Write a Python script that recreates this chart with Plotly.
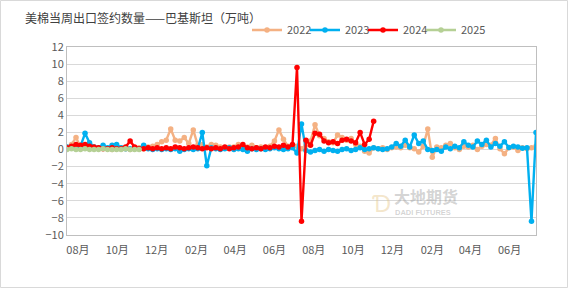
import pandas as pd
import plotly.graph_objects as go

# ---- data (weekly, 万吨) ----
start_date = "2023-07-15"
series_names = ["2022", "2023", "2024", "2025"]

v2022 = [0.3, 0.6, 1.4,
         0.3, 0.2, 0.1, 0.2, 0.1, 0.2, 0.1, 0.0, 0.1, 0.2, 0.1, 0.0, 0.1, 0.2,
         0.1, 0.3, 0.4,
         0.6, 0.9, 1.1, 2.4, 1.1, 1.0, 1.4, 0.7, 2.3,
         0.5, 0.6, 0.3, 0.6, 0.5, 0.3, 0.2, 0.3, 0.3, 0.6, 0.2, 0.3, 0.5, 0.2, 0.3, 0.2, 0.4, 1.0, 2.3, 1.2, 0.4, 0.3, 0.4, 0.1,
         0.5, 1.0, 2.9, 1.6, 1.3, 0.9, 0.8, 1.7, 1.4, 1.1, 1.3, 0.6, 0.4, -0.2, -0.4, 0.2,
         0.1, 0.2, 0.0, 0.2, 0.3, 0.2, 0.5, 0.2, 0.1, -0.3, 0.4, 2.4, -0.9, 0.3, 0.2, 0.5, 0.7, 0.2, 0.0, 0.4,
         0.3, 0.5, 0.0, 0.4, 0.6, 0.5, 1.3, 0.1, -0.5, 0.2, 0.3, -0.1, 0.2, 0.1, 0.2, 0.4]

v2023 = [0.3, 0.2, 0.1, 0.4, 1.9, 0.8, 0.3, 0.2, 0.5, 0.2, 0.5, 0.6, 0.2, 0.1, 0.1, 0.1, 0.1, 0.5,
         0.1, 0.0, 0.1, 0.0, 0.1, 0.0, 0.1, -0.2, 0.0, 0.1, 0.0, 0.1,
         2.0, -1.9,
         0.2, 0.1, 0.0, 0.1, 0.2, 0.0, 0.1, 0.0, -0.2, 0.1, 0.0, 0.1, 0.0, 0.1, 0.2, 0.1, 0.0, 0.1, 0.2,
         -0.4, 3.0,
         -0.1, -0.3, -0.1, 0.0, -0.2, 0.0, -0.1, -0.2, 0.0, 0.1, -0.1, 0.0, 0.2, 0.0, 0.1, 0.2, 0.1, 0.0, 0.1, 0.3,
         0.7, 0.4, 1.1, 0.3, 1.7, 0.7, 1.0, 0.0, -0.1, 0.0, -0.2, 0.3, 0.1, 0.4, 0.2, 0.9, 0.5, 0.3, 1.0, 0.6,
         1.1, 0.3, 0.7, 0.4, 0.9, 0.25, 0.4, 0.3, 0.15, 0.2, -8.4, 2.0]

v2024 = [0.2, 0.4, 0.6, 0.5, 0.6, 0.4, 0.3, 0.2, 0.1, 0.1, 0.2, 0.1, 0.1, 0.3, 1.0, 0.3, 0.1,
         0.1, 0.2, 0.1, 0.2, 0.1, 0.2, 0.1, 0.3, 0.2, 0.1, 0.2, 0.3, 0.2, 0.1, 0.2, 0.1, 0.2, 0.1, 0.3, 0.1,
         0.2, 0.3, 0.6, 0.2, 0.1, 0.2, 0.1, 0.3, 0.2, 0.4, 0.3, 0.5, 0.3, 0.6,
         9.6, -8.4,
         1.1, 0.5, 1.9, 1.8, 1.0, 0.8, 0.9, 0.7, 1.1, 1.2, 1.0, 0.8, 2.0, 0.6, 1.2, 3.3]

v2025 = [0.0, 0.1, 0.0, 0.0, 0.1, 0.0, 0.0, 0.0, 0.1, 0.0, 0.0, 0.0, 0.0, 0.1, 0.0, 0.0, 0.0]

y_ticks = [-10, -8, -6, -4, -2, 0, 2, 4, 6, 8, 10, 12]
title_text = "美棉当周出口签约数量——巴基斯坦（万吨）"

colors = ["#F4B183", "#00B0F0", "#FF0000", "#B5D095"]
all_values = [v2022, v2023, v2024, v2025]

dates = pd.date_range(start_date, periods=105, freq="7D")

W, H = 569, 289
L, R, T, B = 67, 33, 47, 54
pw, ph = W - L - R, H - T - B

legend_ids = ["legend", "legend2", "legend3", "legend4"]
legend_left_px = [247, 305, 363, 421]

fig = go.Figure()
for name, vals, col, lid in zip(series_names, all_values, colors, legend_ids):
    fig.add_trace(go.Scatter(
        x=dates[:len(vals)], y=vals, name=name, mode="lines+markers",
        line=dict(color=col, width=2.4),
        marker=dict(color=col, size=5.5, symbol="circle"),
        legend=lid,
    ))

legend_layout = {}
for lid, lx in zip(legend_ids, legend_left_px):
    legend_layout[lid] = dict(orientation="h", x=(lx - L) / pw, xanchor="left",
                              y=1 + (T - 30) / ph, yanchor="middle",
                              font=dict(size=11, color="#595959"), bgcolor="rgba(0,0,0,0)",
                              borderwidth=0, itemwidth=30)

fig.update_layout(
    width=W, height=H,
    margin=dict(l=L, r=R, t=T, b=B),
    paper_bgcolor="white", plot_bgcolor="white",
    font=dict(family="Noto Sans CJK SC, Noto Sans, sans-serif", color="#595959", size=11),
    title=dict(text=title_text, x=25 / W, xanchor="left", y=1 - 19 / H, yanchor="middle",
               font=dict(size=12, color="#404040")),
    showlegend=True,
    xaxis=dict(type="date", range=[dates[0], dates[-1]], tick0="2023-08-01", dtick="M2",
               tickformat="%m月", showgrid=False, showline=True, linecolor="#BFBFBF", mirror=True,
               ticks="", tickfont=dict(size=11, color="#595959"), ticklabelstandoff=5),
    yaxis=dict(range=[-10, 12], tickvals=y_ticks, showgrid=True, gridcolor="#D9D9D9", gridwidth=1,
               zeroline=False, showline=True, linecolor="#BFBFBF", mirror=True, ticks="",
               tickfont=dict(size=11, color="#595959")),
    **legend_layout,
)

# outer chart border
fig.add_shape(type="rect", xref="paper", yref="paper",
              x0=-(L - 0.5) / pw, x1=1 + (R - 1.5) / pw, y0=-(B - 1.5) / ph, y1=1 + (T - 0.5) / ph,
              line=dict(color="#D9D9D9", width=1), fillcolor="rgba(0,0,0,0)", layer="below")

# watermark
fig.add_annotation(xref="paper", yref="paper", x=(392 - L) / pw, y=(235 - 196) / ph, text="<b>大地期货</b>",
                   showarrow=False, xanchor="left", yanchor="middle",
                   font=dict(size=16, color="rgba(160,160,160,0.45)"))
fig.add_annotation(xref="paper", yref="paper", x=(393 - L) / pw, y=(235 - 212) / ph, text="<b>DADI FUTURES</b>",
                   showarrow=False, xanchor="left", yanchor="middle",
                   font=dict(size=7.5, color="rgba(160,160,160,0.45)", family="Liberation Sans"))
fig.add_annotation(xref="paper", yref="paper", x=(381 - L) / pw, y=(235 - 201) / ph, text="Ɗ",
                   showarrow=False, xanchor="center", yanchor="middle",
                   font=dict(size=24, color="rgba(230,200,140,0.45)"))

fig.write_html("out.html")
